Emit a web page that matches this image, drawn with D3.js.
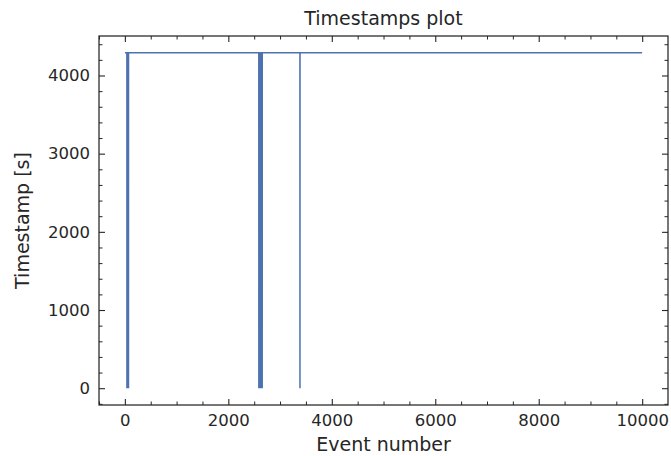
<!DOCTYPE html>
<html>
<head>
<meta charset="utf-8">
<title>Timestamps plot</title>
<script src="https://cdn.jsdelivr.net/npm/d3@7"></script>
<style>
  body { margin: 0; background: #fff; }
  svg text { font-family: "DejaVu Sans", sans-serif; fill: #262626; }
</style>
</head>
<body>
<div id="chart"></div>
<script>
// values
var baseTimestamp = 4290;          // the flat level most events sit on
var lastEvent = 9999;
// events whose timestamp dropped to 0
var zeroEvents = [40, 50, 60, 70, 2590, 2603, 2616, 2629, 2642, 2655, 3385];
var xTicks = [0, 2000, 4000, 6000, 8000, 10000];
var yTicks = [0, 1000, 2000, 3000, 4000];

// line points: flat line, spiking to 0 at each zero event
var points = [[0, baseTimestamp]];
zeroEvents.forEach(function (e) {
  points.push([e - 1, baseTimestamp]);
  points.push([e, 0]);
  points.push([e + 1, baseTimestamp]);
});
points.push([lastEvent, baseTimestamp]);

var W = 671, H = 456;
var m = { left: 99, right: 3, top: 36, bottom: 51 };

var svg = d3.select("#chart").append("svg")
  .attr("width", W).attr("height", H);

var x = d3.scaleLinear().domain([-500, 10499]).range([m.left, W - m.right]);
var y = d3.scaleLinear().domain([-215, 4505]).range([H - m.bottom, m.top]);

var ink = "#262626";

// data line
svg.append("path")
  .datum(points)
  .attr("fill", "none")
  .attr("stroke", "#4c72b0")
  .attr("stroke-width", 1.5)
  .attr("d", d3.line().x(function (d) { return x(d[0]); }).y(function (d) { return y(d[1]); }));

// ticks on all four sides, pointing inwards
var xMinor = d3.range(-500, 10500, 500).filter(function (v) { return v % 2000 !== 0; });
var yMinor = d3.range(-200, 4600, 200).filter(function (v) { return v % 1000 !== 0; });

function addAxis(axis, tx, ty, major, minor, showLabels) {
  var g = svg.append("g").attr("transform", "translate(" + tx + "," + ty + ")")
    .call(axis.tickValues(minor).tickSize(-3.5).tickFormat(""));
  g.select(".domain").remove();
  g.selectAll("line").attr("stroke", ink).attr("stroke-width", 1);
  var g2 = svg.append("g").attr("transform", "translate(" + tx + "," + ty + ")")
    .call(axis.tickValues(major).tickSize(-6).tickPadding(9)
      .tickFormat(showLabels ? d3.format("d") : ""));
  g2.select(".domain").remove();
  g2.selectAll("line").attr("stroke", ink).attr("stroke-width", 1.1);
  g2.selectAll("text").style("font-size", "16.5px").attr("fill", ink);
  return g2;
}

addAxis(d3.axisBottom(x), 0, H - m.bottom, xTicks, xMinor, true);
addAxis(d3.axisTop(x), 0, m.top, xTicks, xMinor, false);
addAxis(d3.axisLeft(y), m.left, 0, yTicks, yMinor, true);
addAxis(d3.axisRight(y), W - m.right, 0, yTicks, yMinor, false);

// frame
svg.append("rect")
  .attr("x", m.left).attr("y", m.top)
  .attr("width", W - m.right - m.left).attr("height", H - m.bottom - m.top)
  .attr("fill", "none").attr("stroke", ink).attr("stroke-width", 1.25);

// titles
svg.append("text")
  .attr("x", (m.left + W - m.right) / 2).attr("y", 25)
  .attr("text-anchor", "middle").style("font-size", "19px")
  .text("Timestamps plot");

svg.append("text")
  .attr("x", (m.left + W - m.right) / 2).attr("y", 451)
  .attr("text-anchor", "middle").style("font-size", "19px")
  .text("Event number");

svg.append("text")
  .attr("transform", "translate(29," + ((m.top + H - m.bottom) / 2) + ") rotate(-90)")
  .attr("text-anchor", "middle").style("font-size", "19px")
  .text("Timestamp [s]");
</script>
</body>
</html>
